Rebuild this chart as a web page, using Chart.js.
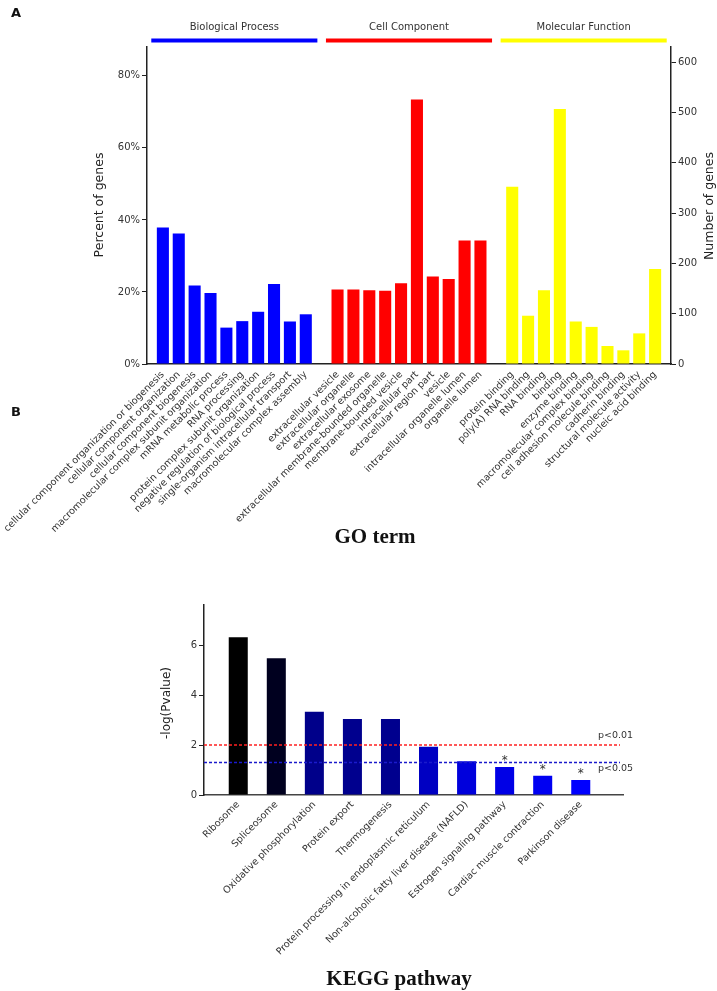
<!DOCTYPE html>
<html>
<head>
<meta charset="utf-8">
<script src="https://cdn.jsdelivr.net/npm/chart.js@4.4.1/dist/chart.umd.min.js"></script>
<style>
html,body{margin:0;padding:0;background:#fff;width:717px;height:991px;overflow:hidden;}
#wrapA{position:absolute;left:0;top:0;width:717px;height:560px;}
#wrapB{position:absolute;left:0;top:400px;width:717px;height:591px;}
canvas{display:block;}
</style>
</head>
<body>
<div id="wrapA"><canvas id="chartA" width="717" height="560"></canvas></div>
<div id="wrapB"><canvas id="chartB" width="717" height="591"></canvas></div>
<script>
// ---------------- Panel A data (GO terms) ----------------
const groupNames = ['Biological Process', 'Cell Component', 'Molecular Function'];

const bpLabels = [
  'cellular component organization or biogenesis',
  'cellular component organization',
  'cellular component biogenesis',
  'macromolecular complex subunit organization',
  'mRNA metabolic process',
  'RNA processing',
  'protein complex subunit organization',
  'negative regulation of biological process',
  'single-organism intracellular transport',
  'macromolecular complex assembly'
];
const bpPercent = [37.9, 36.2, 21.8, 19.7, 10.1, 11.9, 14.5, 22.2, 11.8, 13.8];

const ccLabels = [
  'extracellular vesicle',
  'extracellular organelle',
  'extracellular exosome',
  'extracellular membrane-bounded organelle',
  'membrane-bounded vesicle',
  'intracellular part',
  'extracellular region part',
  'vesicle',
  'intracellular organelle lumen',
  'organelle lumen'
];
const ccPercent = [20.7, 20.7, 20.5, 20.3, 22.4, 73.4, 24.3, 23.6, 34.3, 34.3];

const mfLabels = [
  'protein binding',
  'poly(A) RNA binding',
  'RNA binding',
  'binding',
  'enzyme binding',
  'macromolecular complex binding',
  'cell adhesion molecule binding',
  'cadherin binding',
  'structural molecule activity',
  'nucleic acid binding'
];
const mfPercent = [49.2, 13.4, 20.5, 70.8, 11.8, 10.3, 5.0, 3.8, 8.5, 26.4];

const percentTicks = [0, 20, 40, 60, 80];
const countTicks = [0, 100, 200, 300, 400, 500, 600];

// ---------------- Panel B data (KEGG) ----------------
const keggLabels = [
  'Ribosome',
  'Spliceosome',
  'Oxidative phosphorylation',
  'Protein export',
  'Thermogenesis',
  'Protein processing in endoplasmic reticulum',
  'Non-alcoholic fatty liver disease (NAFLD)',
  'Estrogen signaling pathway',
  'Cardiac muscle contraction',
  'Parkinson disease'
];
const keggValues = [6.31, 5.47, 3.33, 3.04, 3.04, 1.93, 1.35, 1.12, 0.77, 0.60];
const keggMarks = ['', '', '', '', '', '', '', '*', '*', '*'];
const thresholdValues = [2, 1.301];
const thresholdLabels = ['p<0.01', 'p<0.05'];
const keggTicks = [0, 2, 4, 6];

// ---------------- styles ----------------
const FONT = 'DejaVu Sans';
Chart.defaults.font.family = FONT;
Chart.defaults.color = '#333';
const groupColors = ['#0000ff', '#ff0000', '#ffff00'];
const keggColors = ['#000000', '#00001f', '#00008a', '#00008e', '#00008e', '#0000c2', '#0000dc', '#0000e6', '#0000f2', '#0000ff'];
const thresholdColors = ['#ff2020', '#1a1acc'];
const AXIS = '#222';

// build combined category axis for panel A (empty slots at edges and between groups)
const groupLabelSets = [bpLabels, ccLabels, mfLabels];
const groupValueSets = [bpPercent, ccPercent, mfPercent];
const allLabels = [''];
const allValues = [null];
const allColors = ['#fff'];
const groupCenters = [];
groupLabelSets.forEach((labs, gi) => {
  const start = allLabels.length;
  labs.forEach((l, i) => {
    allLabels.push(l);
    allValues.push(groupValueSets[gi][i]);
    allColors.push(groupColors[gi]);
  });
  groupCenters.push(start + (labs.length - 1) / 2);
  allLabels.push('');
  allValues.push(null);
  allColors.push('#fff');
});

const panelAPlugin = {
  id: 'panelA',
  afterDraw(chart) {
    const ctx = chart.ctx;
    const x = chart.scales.x;
    const pitch = x.getPixelForValue(1) - x.getPixelForValue(0);
    ctx.save();
    groupNames.forEach((name, gi) => {
      const c = x.getPixelForValue(groupCenters[gi]);
      const half = 5.23 * pitch;
      ctx.fillStyle = groupColors[gi];
      ctx.fillRect(c - half, 38.5, 2 * half, 4);
      ctx.fillStyle = '#333';
      ctx.font = '10px "' + FONT + '"';
      ctx.textAlign = 'center';
      ctx.textBaseline = 'middle';
      ctx.fillText(name, c, 27);
    });
    // axis titles
    ctx.font = '12.5px "' + FONT + '"';
    ctx.fillStyle = '#222';
    ctx.textAlign = 'center';
    ctx.textBaseline = 'middle';
    ctx.save();
    ctx.translate(100, 205);
    ctx.rotate(-Math.PI / 2);
    ctx.fillText('Percent of genes', 0, 0);
    ctx.restore();
    ctx.save();
    ctx.translate(710, 206);
    ctx.rotate(-Math.PI / 2);
    ctx.fillText('Number of genes', 0, 0);
    ctx.restore();
    // panel letters & x title
    ctx.fillStyle = '#111';
    ctx.font = 'bold 13px "' + FONT + '"';
    ctx.textAlign = 'left';
    ctx.fillText('A', 11, 14);
    ctx.font = 'bold 21px "Liberation Serif"';
    ctx.textAlign = 'center';
    ctx.fillText('GO term', 375, 538);
    ctx.restore();
  }
};

new Chart(document.getElementById('chartA'), {
  type: 'bar',
  data: {
    labels: allLabels,
    datasets: [{
      data: allValues,
      backgroundColor: allColors,
      barPercentage: 0.76,
      categoryPercentage: 1,
      yAxisID: 'y'
    }]
  },
  options: {
    responsive: false,
    animation: false,
    layout: { padding: { top: 47, left: 0, right: 0, bottom: 0 } },
    plugins: { legend: { display: false }, tooltip: { enabled: false } },
    scales: {
      x: {
        offset: false,
        grid: { display: false },
        border: { display: true, color: AXIS, width: 1.5 },
        ticks: { autoSkip: false, maxRotation: 45, minRotation: 45, font: { size: 9.6 }, color: '#333', padding: -3 },
        afterFit: s => { s.height = 196; }
      },
      y: {
        position: 'left',
        min: 0, max: 88,
        grid: { drawOnChartArea: false, drawTicks: true, tickLength: 5, color: AXIS },
        border: { display: true, color: AXIS, width: 1.5 },
        afterBuildTicks: s => { s.ticks = percentTicks.map(v => ({ value: v })); },
        ticks: { callback: v => v + '%', font: { size: 10 }, color: '#333', padding: 2 },
        afterFit: s => { s.width = 147; }
      },
      y2: {
        position: 'right',
        min: 0, max: 630,
        grid: { drawOnChartArea: false, drawTicks: true, tickLength: 5, color: AXIS },
        border: { display: true, color: AXIS, width: 1.5 },
        afterBuildTicks: s => { s.ticks = countTicks.map(v => ({ value: v })); },
        ticks: { font: { size: 10 }, color: '#333', padding: 2 },
        afterFit: s => { s.width = 46; }
      }
    }
  },
  plugins: [panelAPlugin]
});

// ---------------- Panel B ----------------
const panelBPlugin = {
  id: 'panelB',
  afterDatasetsDraw(chart) {
    const ctx = chart.ctx;
    const x = chart.scales.x, y = chart.scales.y;
    const area = chart.chartArea;
    ctx.save();
    // threshold lines
    thresholdValues.forEach((v, i) => {
      const py = y.getPixelForValue(v);
      ctx.strokeStyle = thresholdColors[i];
      ctx.lineWidth = 1.4;
      ctx.setLineDash([3, 2]);
      ctx.beginPath();
      ctx.moveTo(area.left, py);
      ctx.lineTo(area.right - 3, py);
      ctx.stroke();
      ctx.setLineDash([]);
      ctx.fillStyle = '#333';
      ctx.font = '9.5px "' + FONT + '"';
      ctx.textAlign = 'left';
      ctx.textBaseline = 'middle';
      ctx.fillText(thresholdLabels[i], area.right - 25, py + (i === 0 ? -9.5 : 6.5));
    });
    // significance marks
    ctx.fillStyle = '#333';
    ctx.font = '12px "' + FONT + '"';
    ctx.textAlign = 'center';
    ctx.textBaseline = 'alphabetic';
    keggMarks.forEach((m, i) => {
      if (!m) return;
      ctx.fillText(m, x.getPixelForValue(i), y.getPixelForValue(keggValues[i]) - 3);
    });
    ctx.restore();
  },
  afterDraw(chart) {
    const ctx = chart.ctx;
    ctx.save();
    ctx.fillStyle = '#222';
    ctx.font = '12px "' + FONT + '"';
    ctx.textAlign = 'center';
    ctx.textBaseline = 'middle';
    ctx.translate(167, 303);
    ctx.rotate(-Math.PI / 2);
    ctx.fillText('-log(Pvalue)', 0, 0);
    ctx.restore();
    ctx.save();
    ctx.fillStyle = '#111';
    ctx.font = 'bold 13px "' + FONT + '"';
    ctx.textAlign = 'left';
    ctx.textBaseline = 'middle';
    ctx.fillText('B', 11, 13);
    ctx.font = 'bold 21px "Liberation Serif"';
    ctx.textAlign = 'center';
    ctx.fillText('KEGG pathway', 399, 580);
    ctx.restore();
  }
};

new Chart(document.getElementById('chartB'), {
  type: 'bar',
  data: {
    datasets: [{
      data: keggValues.map((v, i) => ({ x: i, y: v })),
      backgroundColor: keggColors,
      barPercentage: 0.5,
      categoryPercentage: 1
    }]
  },
  options: {
    responsive: false,
    animation: false,
    layout: { padding: { top: 205, left: 0, right: 94, bottom: 0 } },
    plugins: { legend: { display: false }, tooltip: { enabled: false } },
    scales: {
      x: {
        type: 'linear',
        min: -0.9, max: 10.11,
        offset: false,
        grid: { display: false },
        border: { display: true, color: '#444', width: 1.5 },
        afterBuildTicks: s => { s.ticks = keggLabels.map((_, i) => ({ value: i })); },
        ticks: { autoSkip: false, maxRotation: 45, minRotation: 45, font: { size: 9.6 }, color: '#333', padding: -4,
                 callback: v => keggLabels[v] },
        afterFit: s => { s.height = 196; }
      },
      y: {
        min: 0, max: 7.6,
        grid: { drawOnChartArea: false, drawTicks: true, tickLength: 5, color: AXIS },
        border: { display: true, color: AXIS, width: 1.5 },
        afterBuildTicks: s => { s.ticks = keggTicks.map(v => ({ value: v })); },
        ticks: { font: { size: 10 }, color: '#333', padding: 2 },
        afterFit: s => { s.width = 204; }
      }
    }
  },
  plugins: [panelBPlugin]
});
</script>
</body>
</html>
